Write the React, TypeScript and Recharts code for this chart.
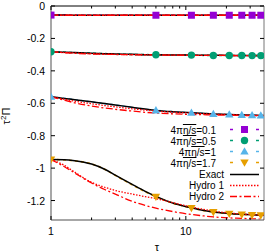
import React from 'react';
import { ComposedChart, Line, XAxis, YAxis } from 'recharts';

// proper time grid (tau) and the taus where the kinetic points are marked
const TAU = [1, 1.25, 1.5, 2, 2.5, 3, 4, 5, 6, 8, 11, 13, 16, 21, 26, 31, 36, 38];
const MARK_TAU = [1, 6, 11, 16, 21, 26, 31, 36];

const X_TICKS = [1, 2, 3, 4, 5, 6, 7, 8, 9, 10, 20, 30];
const X_LABELS = [1, 10];
const Y_TICKS = [0, -0.2, -0.4, -0.6, -0.8, -1, -1.2];

// 4πη/s = 0.1
const KIN_01 = [-0.056, -0.056, -0.057, -0.057, -0.057, -0.057, -0.057, -0.057, -0.057, -0.057, -0.057, -0.057, -0.057, -0.057, -0.057, -0.057, -0.057, -0.057];
const EXACT_01 = [-0.056, -0.056, -0.057, -0.057, -0.057, -0.057, -0.057, -0.057, -0.057, -0.057, -0.057, -0.057, -0.057, -0.057, -0.057, -0.057, -0.057, -0.057];
const HYDRO1_01 = [-0.056, -0.057, -0.057, -0.057, -0.057, -0.057, -0.057, -0.057, -0.057, -0.057, -0.057, -0.057, -0.057, -0.057, -0.057, -0.057, -0.057, -0.057];
const HYDRO2_01 = [-0.056, -0.057, -0.057, -0.058, -0.057, -0.057, -0.057, -0.057, -0.057, -0.057, -0.057, -0.057, -0.057, -0.057, -0.057, -0.057, -0.057, -0.057];

// 4πη/s = 0.5
const KIN_05 = [-0.282, -0.285, -0.288, -0.291, -0.294, -0.296, -0.299, -0.3, -0.301, -0.302, -0.303, -0.304, -0.305, -0.305, -0.305, -0.306, -0.306, -0.306];
const EXACT_05 = [-0.282, -0.285, -0.287, -0.291, -0.294, -0.296, -0.298, -0.3, -0.301, -0.302, -0.303, -0.304, -0.304, -0.305, -0.305, -0.306, -0.306, -0.306];
const HYDRO1_05 = [-0.282, -0.287, -0.29, -0.294, -0.297, -0.298, -0.3, -0.301, -0.302, -0.303, -0.304, -0.304, -0.305, -0.305, -0.306, -0.306, -0.306, -0.306];
const HYDRO2_05 = [-0.282, -0.288, -0.292, -0.296, -0.298, -0.299, -0.301, -0.302, -0.302, -0.303, -0.304, -0.304, -0.305, -0.305, -0.306, -0.306, -0.306, -0.306];

// 4πη/s = 1
const KIN_1 = [-0.56, -0.569, -0.578, -0.592, -0.602, -0.611, -0.626, -0.637, -0.644, -0.653, -0.659, -0.662, -0.666, -0.67, -0.672, -0.674, -0.675, -0.676];
const EXACT_1 = [-0.56, -0.57, -0.578, -0.591, -0.601, -0.61, -0.625, -0.636, -0.644, -0.652, -0.658, -0.662, -0.666, -0.67, -0.672, -0.674, -0.675, -0.676];
const HYDRO1_1 = [-0.56, -0.575, -0.587, -0.603, -0.614, -0.622, -0.634, -0.642, -0.648, -0.655, -0.661, -0.664, -0.667, -0.67, -0.672, -0.674, -0.675, -0.676];
const HYDRO2_1 = [-0.56, -0.581, -0.597, -0.617, -0.629, -0.637, -0.648, -0.656, -0.66, -0.665, -0.669, -0.67, -0.672, -0.673, -0.675, -0.676, -0.677, -0.677];

// 4πη/s = 1.7
const KIN_17 = [-0.947, -0.949, -0.955, -0.974, -1.007, -1.045, -1.103, -1.146, -1.176, -1.216, -1.246, -1.259, -1.271, -1.281, -1.286, -1.289, -1.29, -1.291];
const EXACT_17 = [-0.947, -0.948, -0.954, -0.975, -1.007, -1.043, -1.1, -1.143, -1.174, -1.215, -1.245, -1.258, -1.27, -1.28, -1.285, -1.288, -1.29, -1.291];
const HYDRO1_17 = [-0.947, -0.982, -1.025, -1.088, -1.118, -1.138, -1.16, -1.176, -1.188, -1.213, -1.24, -1.252, -1.265, -1.277, -1.283, -1.287, -1.29, -1.291];
const HYDRO2_17 = [-0.947, -0.99, -1.03, -1.092, -1.132, -1.16, -1.205, -1.23, -1.247, -1.268, -1.286, -1.293, -1.301, -1.307, -1.31, -1.313, -1.315, -1.316];

const ETA_LABELS = ['0.1', '0.5', '1', '1.7'];

const data = TAU.map((tau, i) => ({
  tau,
  k0: KIN_01[i], k1: KIN_05[i], k2: KIN_1[i], k3: KIN_17[i],
  e0: EXACT_01[i], e1: EXACT_05[i], e2: EXACT_1[i], e3: EXACT_17[i],
  a0: HYDRO1_01[i], a1: HYDRO1_05[i], a2: HYDRO1_1[i], a3: HYDRO1_17[i],
  b0: HYDRO2_01[i], b1: HYDRO2_05[i], b2: HYDRO2_1[i], b3: HYDRO2_17[i],
}));

const FONT = "'Liberation Sans', Arial, Helvetica, sans-serif";
const COLORS = ['#9400D3', '#009E73', '#56B4E9', '#E69F00'];
const SHAPES = ['square', 'circle', 'up', 'down'];
const RED = '#ff0000';
const DOTTED = '1.5 1.5';
const DASHDOT = '7 2.5 2 2.5';

function Marker({ shape, color, cx, cy }: { shape: string; color: string; cx: number; cy: number }) {
  if (shape === 'square') return <rect x={cx - 3.5} y={cy - 3.5} width={7} height={7} fill={color} />;
  if (shape === 'circle') return <circle cx={cx} cy={cy} r={3.7} fill={color} />;
  if (shape === 'up')
    return <polygon points={`${cx},${cy - 4.3} ${cx - 4.2},${cy + 3} ${cx + 4.2},${cy + 3}`} fill={color} />;
  return <polygon points={`${cx},${cy + 4.3} ${cx - 4.2},${cy - 3} ${cx + 4.2},${cy - 3}`} fill={color} />;
}

const markerDot = (g: number) => (props: any) => {
  const { cx, cy, payload, index } = props;
  if (!MARK_TAU.includes(payload.tau)) return <g key={`n${g}-${index}`} />;
  return (
    <g key={`m${g}-${index}`}>
      <Marker shape={SHAPES[g]} color={COLORS[g]} cx={cx} cy={cy} />
    </g>
  );
};

const LeftTick = (p: any) => (
  <g>
    <line x1={p.x} x2={p.x + 4} y1={p.y} y2={p.y} stroke="#000" strokeWidth={1} />
    <text x={p.x - 6} y={p.y} textAnchor="end" dominantBaseline="central" fontSize={10.5} fontFamily={FONT} fill="#000">
      {String(p.payload.value)}
    </text>
  </g>
);

const RightTick = (p: any) => <line x1={p.x} x2={p.x - 4} y1={p.y} y2={p.y} stroke="#000" strokeWidth={1} />;

const BottomTick = (p: any) => {
  const major = X_LABELS.includes(p.payload.value);
  return (
    <g>
      <line x1={p.x} x2={p.x} y1={p.y} y2={p.y - (major ? 4 : 2.5)} stroke="#000" strokeWidth={1} />
      {major && (
        <text x={p.x} y={p.y + 11} textAnchor="middle" dominantBaseline="central" fontSize={10.5} fontFamily={FONT} fill="#000">
          {String(p.payload.value)}
        </text>
      )}
    </g>
  );
};

const TopTick = (p: any) => {
  const major = X_LABELS.includes(p.payload.value);
  return <line x1={p.x} x2={p.x} y1={p.y} y2={p.y + (major ? 4 : 2.5)} stroke="#000" strokeWidth={1} />;
};

const rowY = (i: number) => 130.5 + i * 11;

function KeyText({ right, row, children }: { right: number; row: number; children: React.ReactNode }) {
  return (
    <div
      style={{
        position: 'absolute',
        right: 266 - right,
        top: rowY(row) - 6,
        height: 12,
        lineHeight: '12px',
        fontSize: 10,
        whiteSpace: 'nowrap',
        color: '#000',
      }}
    >
      {children}
    </div>
  );
}

function KeyBox() {
  const sx1 = 230;
  const sx2 = 259;
  const mx = 244.5;
  return (
    <>
      {ETA_LABELS.map((eta, g) => (
        <KeyText key={eta} right={216} row={g}>
          4π<span style={{ textDecoration: 'overline' }}>η/s</span>={eta}
        </KeyText>
      ))}
      <KeyText right={224} row={4}>Exact</KeyText>
      <KeyText right={224} row={5}>Hydro 1</KeyText>
      <KeyText right={224} row={6}>Hydro 2</KeyText>
      <svg width={266} height={252} style={{ position: 'absolute', left: 0, top: 0, overflow: 'visible' }}>
        {ETA_LABELS.map((eta, g) => {
          const y = rowY(g) - 1;
          return (
            <g key={eta}>
              <line x1={sx1} x2={sx1 + 3} y1={y} y2={y} stroke={COLORS[g]} strokeWidth={1.5} />
              <line x1={sx2 - 3} x2={sx2} y1={y} y2={y} stroke={COLORS[g]} strokeWidth={1.5} />
              <Marker shape={SHAPES[g]} color={COLORS[g]} cx={mx} cy={y} />
            </g>
          );
        })}
        <line x1={sx1} x2={sx2} y1={rowY(4)} y2={rowY(4)} stroke="#000" strokeWidth={1.5} />
        <line x1={sx1} x2={sx2} y1={rowY(5)} y2={rowY(5)} stroke={RED} strokeWidth={1.3} strokeDasharray={DOTTED} />
        <line x1={sx1} x2={sx2} y1={rowY(6)} y2={rowY(6)} stroke={RED} strokeWidth={1.3} strokeDasharray={DASHDOT} />
      </svg>
    </>
  );
}

export default function App() {
  const groups = [0, 1, 2, 3];
  return (
    <div style={{ position: 'absolute', left: 0, top: 0, width: 266, height: 252, background: '#fff', fontFamily: FONT }}>
      <ComposedChart width={266} height={252} data={data} margin={{ top: 5, right: 1, bottom: 31, left: 50 }}>
        <XAxis
          dataKey="tau"
          type="number"
          scale="log"
          domain={[1, 38]}
          allowDataOverflow
          ticks={X_TICKS}
          interval={0}
          height={1}
          tickSize={0}
          tickMargin={0}
          tickLine={false}
          axisLine={{ stroke: '#8a8a8a', strokeWidth: 1.5 }}
          tick={<BottomTick />}
        />
        <XAxis
          xAxisId="top"
          orientation="top"
          dataKey="tau"
          type="number"
          scale="log"
          domain={[1, 38]}
          allowDataOverflow
          ticks={X_TICKS}
          interval={0}
          height={1}
          tickSize={0}
          tickMargin={0}
          tickLine={false}
          axisLine={{ stroke: '#000', strokeWidth: 1 }}
          tick={<TopTick />}
        />
        <YAxis
          type="number"
          domain={[-1.32, 0]}
          allowDataOverflow
          ticks={Y_TICKS}
          interval={0}
          width={1}
          tickSize={0}
          tickMargin={0}
          tickLine={false}
          axisLine={{ stroke: '#8a8a8a', strokeWidth: 1.5 }}
          tick={<LeftTick />}
        />
        <YAxis
          yAxisId="right"
          orientation="right"
          type="number"
          domain={[-1.32, 0]}
          allowDataOverflow
          ticks={Y_TICKS}
          interval={0}
          width={1}
          tickSize={0}
          tickMargin={0}
          tickLine={false}
          axisLine={{ stroke: '#777', strokeWidth: 1 }}
          tick={<RightTick />}
        />
        {groups.map((g) => (
          <Line
            key={`k${g}`}
            type="monotone"
            dataKey={`k${g}`}
            stroke={COLORS[g]}
            strokeWidth={1.6}
            strokeDasharray="3 3"
            dot={markerDot(g)}
            activeDot={false}
            isAnimationActive={false}
          />
        ))}
        {groups.map((g) => (
          <Line key={`e${g}`} type="monotone" dataKey={`e${g}`} stroke="#000" strokeWidth={1.5} dot={false} activeDot={false} isAnimationActive={false} />
        ))}
        {groups.map((g) => (
          <Line key={`a${g}`} type="monotone" dataKey={`a${g}`} stroke={RED} strokeWidth={1.3} strokeDasharray={DOTTED} dot={false} activeDot={false} isAnimationActive={false} />
        ))}
        {groups.map((g) => (
          <Line key={`b${g}`} type="monotone" dataKey={`b${g}`} stroke={RED} strokeWidth={1.3} strokeDasharray={DASHDOT} dot={false} activeDot={false} isAnimationActive={false} />
        ))}
      </ComposedChart>
      <KeyBox />
      <div
        style={{
          position: 'absolute',
          left: 6,
          top: 116,
          transform: 'translate(-50%, -50%) rotate(-90deg)',
          fontSize: 11,
          whiteSpace: 'nowrap',
          lineHeight: 1,
        }}
      >
        τ<sup style={{ fontSize: 8 }}>2</sup>Π
      </div>
      <div style={{ position: 'absolute', left: 157, top: 247, transform: 'translate(-50%, -50%)', fontSize: 11, lineHeight: 1 }}>τ</div>
    </div>
  );
}
